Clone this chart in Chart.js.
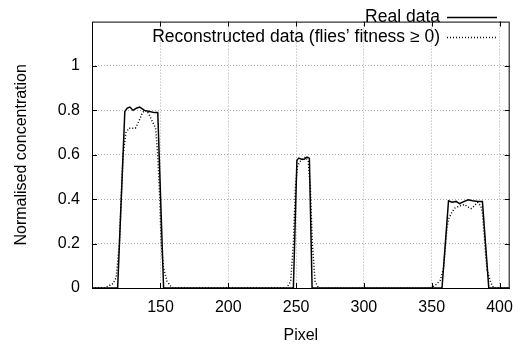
<!DOCTYPE html>
<html>
<head>
<meta charset="utf-8">
<script src="https://cdn.jsdelivr.net/npm/chart.js@4/dist/chart.umd.min.js"></script>
<style>
  html, body { margin: 0; padding: 0; background: #fff; }
  #wrap { width: 523px; height: 350px; }
</style>
</head>
<body>
<div id="wrap"><canvas id="chart" width="523" height="350"></canvas></div>
<script>
// tick labels
const xTicks = [150, 200, 250, 300, 350, 400];
const yTicks = [0, 0.2, 0.4, 0.6, 0.8, 1];

// real data (pixel, concentration)
const realPixel = [99.5, 118.4, 123.7, 125.5, 127.4, 129.8, 132.2, 134.6, 135.8, 138.2, 141.9, 145.5, 148, 152.3,
  248, 250.6, 252, 254, 256, 258, 259.8, 261.8,
  357.6, 362.4, 365, 368, 370.5, 374, 377, 380, 384, 387.4, 392.1, 407.5];
const realConc = [0, 0, 0.795, 0.81, 0.815, 0.80, 0.81, 0.815, 0.81, 0.80, 0.795, 0.79, 0.79, 0,
  0, 0.575, 0.585, 0.58, 0.58, 0.59, 0.585, 0,
  0, 0.393, 0.386, 0.39, 0.38, 0.39, 0.397, 0.393, 0.39, 0.39, 0, 0];

// reconstructed data
const reconPixel = [99.5, 108.6, 115.2, 117.3, 119.7, 121, 122.4, 124.5, 126.8, 129, 131.5, 134, 136.7, 138.5, 140.3, 142.5, 144, 146.4, 148, 149.5, 150.5, 152.2, 154.9, 158.5,
  243, 246, 248, 249.5, 251, 253, 255, 257, 259, 260.5, 262, 264, 266.5,
  349.3, 352.9, 356.4, 358.8, 360, 361.2, 362.4, 364.8, 367.1, 370.7, 374.3, 376.6, 379, 381.4, 383.8, 386.2, 387.4, 388.6, 389.8, 390.9, 393.4, 395.7, 407.5];
const reconConc = [0, 0, 0.02, 0.047, 0.2, 0.4, 0.6, 0.7, 0.72, 0.72, 0.72, 0.75, 0.79, 0.80, 0.795, 0.77, 0.75, 0.72, 0.6, 0.4, 0.2, 0.09, 0.03, 0,
  0, 0.03, 0.2, 0.45, 0.55, 0.57, 0.58, 0.59, 0.57, 0.45, 0.2, 0.03, 0,
  0, 0.014, 0.035, 0.09, 0.18, 0.27, 0.31, 0.34, 0.36, 0.37, 0.376, 0.365, 0.358, 0.37, 0.386, 0.37, 0.34, 0.25, 0.15, 0.08, 0.027, 0, 0];

const seriesNames = ["Real data", "Reconstructed data (flies\u2019 fitness \u2265 0)"];

const FONT = "'Liberation Sans', Arial, sans-serif";

function toPoints(xs, ys) {
  return xs.map((x, i) => ({x: x, y: ys[i]}));
}

// frame, inward ticks and the right-aligned legend, gnuplot style
const framePlugin = {
  id: "frame",
  afterDatasetsDraw(chart) {
    const ctx = chart.ctx;
    const a = chart.chartArea;
    const xs = chart.scales.x, ys = chart.scales.y;
    ctx.save();
    ctx.strokeStyle = "#000";
    ctx.lineWidth = 1;
    ctx.setLineDash([]);
    ctx.strokeRect(a.left + 0.5, a.top + 0.5, a.right - a.left - 1, a.bottom - a.top);
    const tl = 5;
    ctx.beginPath();
    xTicks.forEach(v => {
      const px = Math.round(xs.getPixelForValue(v)) + 0.5;
      ctx.moveTo(px, a.bottom); ctx.lineTo(px, a.bottom - tl);
      ctx.moveTo(px, a.top); ctx.lineTo(px, a.top + tl);
    });
    yTicks.forEach(v => {
      const py = Math.round(ys.getPixelForValue(v)) + 0.5;
      ctx.moveTo(a.left, py); ctx.lineTo(a.left + tl, py);
      ctx.moveTo(a.right, py); ctx.lineTo(a.right - tl, py);
    });
    ctx.stroke();

    // legend
    ctx.font = "17.5px " + FONT;
    ctx.fillStyle = "#000";
    ctx.textAlign = "right";
    ctx.textBaseline = "middle";
    const rows = [17, 37];
    chart.data.datasets.forEach((ds, i) => {
      const y = rows[i];
      ctx.fillText(ds.label, 440, y);
      ctx.beginPath();
      ctx.setLineDash(ds.borderDash || []);
      ctx.lineWidth = ds.borderWidth;
      ctx.moveTo(447, y + 0.5);
      ctx.lineTo(497, y + 0.5);
      ctx.stroke();
    });
    ctx.restore();
  }
};

new Chart(document.getElementById("chart"), {
  type: "line",
  data: {
    datasets: [
      {
        label: seriesNames[0],
        data: toPoints(realPixel, realConc),
        borderColor: "#000",
        borderWidth: 1.5,
        pointRadius: 0,
        tension: 0,
        fill: false
      },
      {
        label: seriesNames[1],
        data: toPoints(reconPixel, reconConc),
        borderColor: "#000",
        borderWidth: 1.5,
        borderDash: [1, 2],
        pointRadius: 0,
        tension: 0,
        fill: false
      }
    ]
  },
  options: {
    responsive: false,
    animation: false,
    layout: { padding: { left: 0, right: 6, top: 5, bottom: 0 } },
    plugins: {
      legend: { display: false },
      tooltip: { enabled: false }
    },
    scales: {
      x: {
        type: "linear",
        min: 99.5,
        max: 407.5,
        afterBuildTicks: s => { s.ticks = xTicks.map(v => ({value: v})); },
        afterFit: s => { s.height = 62; },
        grid: { color: "#aaa", drawTicks: false },
        border: { display: false, dash: [1, 2] },
        ticks: { color: "#000", font: { family: FONT, size: 16 }, padding: 10, maxRotation: 0,
          callback: v => String(v) },
        title: { display: true, text: "Pixel", color: "#000", font: { family: FONT, size: 16 }, padding: { top: 0, bottom: 5 } }
      },
      y: {
        min: 0,
        max: 1.2,
        afterBuildTicks: s => { s.ticks = yTicks.map(v => ({value: v})); },
        afterFit: s => { s.width = 92; },
        grid: { color: "#aaa", drawTicks: false },
        border: { display: false, dash: [1, 2] },
        ticks: { color: "#000", font: { family: FONT, size: 16 }, padding: 12,
          callback: v => String(v) },
        title: { display: true, text: "Normalised concentration", color: "#000", font: { family: FONT, size: 16 }, padding: { top: 12, bottom: 0 } }
      }
    }
  },
  plugins: [framePlugin]
});
</script>
</body>
</html>
